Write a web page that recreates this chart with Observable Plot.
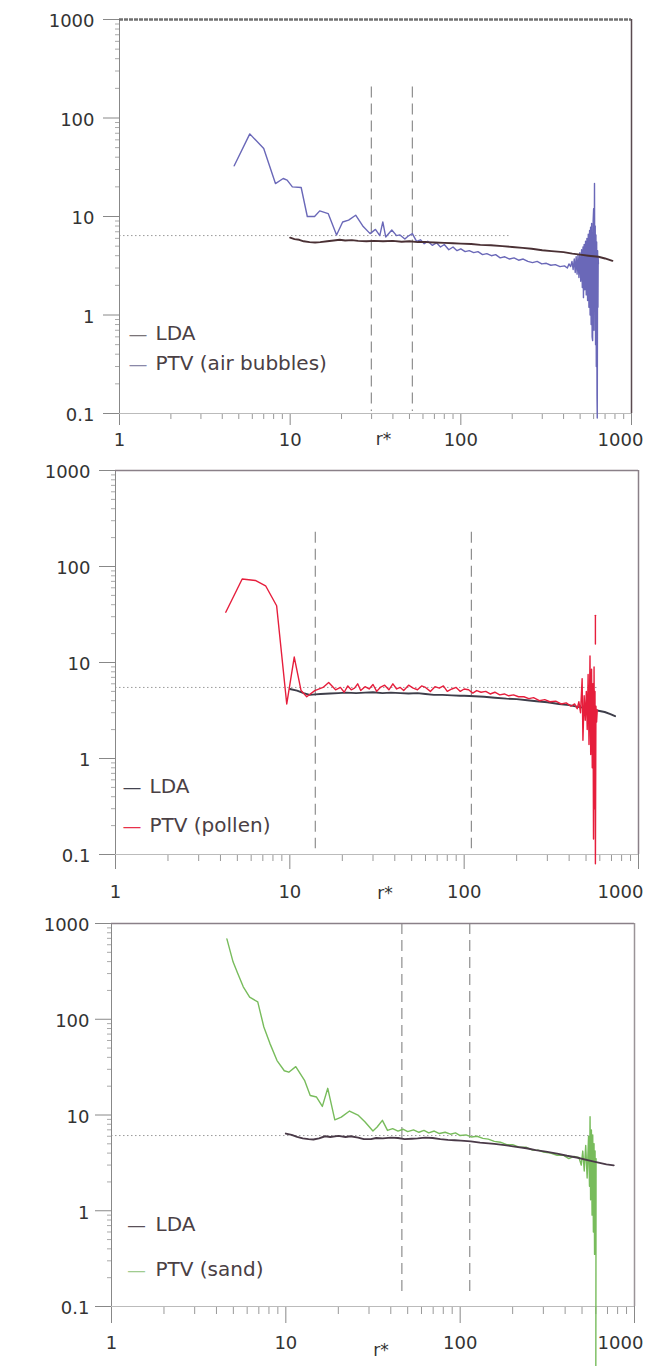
<!DOCTYPE html>
<html><head><meta charset="utf-8">
<script src="https://cdn.jsdelivr.net/npm/d3@7"></script>
<script src="https://cdn.jsdelivr.net/npm/@observablehq/plot@0.6"></script>
<style>
body{margin:0;background:#fff;width:646px;overflow:hidden;}
#chart svg{display:block;}
</style></head><body><div id="chart"></div>
<script>
// ---------- tick values / labels ----------
const majorX = [1, 10, 100, 1000];
const xTickLabels = ["1", "10", "100", "1000"];
const minorX = [2,3,4,5,6,7,8,9,20,30,40,50,60,70,80,90,200,300,400,500,600,700,800,900];
const majorY = [0.1, 1, 10, 100, 1000];
const yTickLabels = ["0.1", "1", "10", "100", "1000"];
const minorY = [0.2,0.3,0.4,0.5,0.6,0.7,0.8,0.9,2,3,4,5,6,7,8,9,20,30,40,50,60,70,80,90,200,300,400,500,600,700,800,900];
const xTitle = "r*";

// ---------- panel 1 : air bubbles ----------
const seriesNames1 = ["LDA", "PTV (air bubbles)"];
const bubblesPTV = [[4.7,32.7],[5.8,69],[7.0,49],[8.2,21.6],[9.1,24.3],[9.6,23.4],[10.3,20],[11.6,19.7],[12.6,10],[13.9,10],[14.9,11.4],[16.7,10.7],[18.7,6.5],[20.3,8.8],[22.0,9.2],[24.2,10.3],[26.8,7.9],[29.4,6.7],[31.6,7.4],[33.5,6.4],[34.9,8.8],[36.3,6.2],[39.4,7.3],[42,6.4],[44,6.5],[47,5.9],[49,6.3],[52,6.7],[55,5.6],[58,5.8],[61,5.3],[64,5.6],[68,5.1],[72,5.4],[76,4.9],[80,5.2],[85,4.6],[90,4.9],[95,4.5],[100,4.7],[106,4.4],[112,4.5],[119,4.3],[126,4.4],[134,4.1],[142,4.2],[151,4.0],[160,4.1],[170,3.8],[181,3.9],[193,3.7],[205,3.8],[218,3.6],[232,3.7],[247,3.5],[263,3.4],[280,3.5],[298,3.3],[317,3.35],[337,3.2],[358,3.25],[381,3.1],[405,3.15],[421,3.0],[430,3.3],[440,3.1],[448,3.5],[455,2.9],[462,3.7],[468,2.7],[474,3.9],[480,2.6],[486,4.1],[492,2.4],[498,4.3],[504,2.2],[510,4.6],[515,1.9],[520,4.9],[523,1.5],[528,5.2],[533,1.8],[538,5.6],[543,1.6],[548,6.0],[553,1.4],[558,6.6],[563,1.2],[568,7.2],[572,1.0],[576,7.8],[580,0.8],[584,8.5],[588,0.6],[592,0.55],[596,9],[600,12],[603,0.7],[607,21.6],[610,1.2],[613,8],[616,0.5],[619,6.5],[622,0.3],[625,5.5],[628,0.15],[630,0.09],[633,4.5],[636,1.2],[638,3.8],[640,3.3]];
const bubblesLDA = [[10,6.1],[10.6,5.9],[11.3,5.8],[12,5.6],[13,5.5],[14,5.45],[15,5.5],[16.5,5.6],[18,5.7],[19.5,5.8],[21,5.7],[23,5.75],[25,5.65],[28,5.6],[31,5.65],[35,5.6],[40,5.65],[45,5.55],[50,5.6],[56,5.5],[63,5.5],[70,5.45],[80,5.4],[90,5.35],[100,5.3],[115,5.25],[130,5.15],[150,5.1],[175,5.0],[200,4.9],[230,4.8],[260,4.7],[300,4.55],[340,4.45],[400,4.35],[450,4.2],[500,4.1],[560,4.0],[640,3.9],[700,3.75],[773,3.55]];
const bubblesDashR = [29.9, 52];
const bubblesDashSpan = [207, 0.105];
const bubblesDotLevel = 6.4;
const bubblesDotSpan = [1, 196];

// ---------- panel 2 : pollen ----------
const seriesNames2 = ["LDA", "PTV (pollen)"];
const pollenPTV = [[4.29,33.4],[5.33,74],[6.34,71.5],[7.26,63],[8.4,39],[9.6,3.7],[10.6,11.4],[11.6,5.1],[12.5,4.4],[13.9,5.1],[15.5,5.5],[16.7,6.2],[18.3,5.2],[19.5,5.5],[20.5,4.9],[21.5,5.7],[22.5,5.2],[23.5,5.4],[24.5,6.0],[25.5,5.1],[27,5.6],[28.5,5.3],[30,5.9],[31.5,5.0],[33,5.5],[35,5.8],[37,5.2],[39,6.0],[41,5.3],[43,5.5],[45,5.1],[48,5.8],[51,5.4],[54,5.2],[57,5.7],[60,5.5],[64,5.0],[68,5.6],[72,5.4],[76,5.7],[80,5.0],[85,5.3],[90,5.5],[95,5.0],[100,5.3],[106,5.2],[112,4.8],[118,5.1],[125,4.9],[133,5.0],[141,4.7],[150,4.9],[160,4.6],[170,4.7],[180,4.5],[192,4.6],[205,4.4],[220,4.4],[235,4.2],[250,4.3],[270,4.0],[290,4.1],[310,3.9],[335,3.95],[360,3.7],[385,3.8],[410,3.5],[430,3.7],[445,3.3],[455,3.9],[465,3.0],[475,6.8],[480,1.55],[488,4.5],[495,2.5],[502,5.0],[508,2.0],[514,7.5],[520,1.4],[527,11.7],[532,1.1],[538,8.5],[543,0.8],[548,6.0],[552,0.145],[556,9.0],[560,0.3],[563,5.0],[566,0.08],[570,3.5],[575,2.4],[580,3.2]];
const pollenSpike = [[566,15.6],[566,31]];
const pollenLDA = [[10,5.3],[11,5.1],[12,4.8],[13,4.6],[14,4.65],[15,4.7],[17,4.75],[19,4.8],[21,4.85],[24,4.8],[27,4.85],[30,4.9],[34,4.8],[38,4.85],[43,4.8],[48,4.75],[54,4.8],[60,4.7],[67,4.6],[75,4.6],[85,4.55],[95,4.5],[100,4.5],[115,4.45],[130,4.4],[150,4.3],[175,4.2],[200,4.15],[230,4.05],[260,3.95],[300,3.85],[350,3.7],[400,3.6],[450,3.45],[500,3.35],[560,3.2],[640,3.05],[690,2.9],[734,2.76]];
const pollenDashR = [14.0, 110];
const pollenDashSpan = [228, 0.115];
const pollenDotLevel = 5.5;
const pollenDotSpan = [1, 580];

// ---------- panel 3 : sand ----------
const seriesNames3 = ["LDA", "PTV (sand)"];
const sandPTV = [[4.59,690],[4.98,398],[5.3,300],[5.7,218],[6.2,170],[6.9,152],[7.48,83],[8.1,56],[8.9,37],[9.8,29],[10.4,28],[11.4,32],[12.8,23],[13.8,16],[15,15.4],[16.2,12.3],[17.4,19],[19.1,8.9],[20.8,9.5],[23.2,11],[26.1,9.9],[28.4,8.5],[31.6,6.8],[33.4,7.5],[35.8,8.8],[38.3,6.9],[41,7.2],[44,6.8],[47,7.1],[50,6.7],[54,7.0],[58,6.6],[62,6.9],[66,6.5],[71,6.8],[76,6.4],[82,6.6],[88,6.3],[94,6.5],[100,6.1],[108,6.2],[116,5.9],[125,6.0],[135,5.7],[145,5.6],[157,5.3],[170,5.2],[185,4.9],[200,4.9],[220,4.6],[240,4.6],[260,4.3],[280,4.3],[300,4.1],[330,4.0],[360,3.8],[390,3.8],[420,3.5],[450,3.7],[480,3.6],[495,3.0],[505,4.2],[515,2.6],[525,4.8],[535,2.2],[545,6.0],[552,1.8],[556,9.6],[560,1.3],[566,7.0],[571,0.9],[576,6.2],[581,0.6],[586,5.0],[590,0.35],[594,4.2],[598,0.6],[602,3.5],[600,0.02]];
const sandLDA = [[10,6.4],[10.8,6.2],[11.6,5.9],[12.5,5.7],[13.5,5.6],[14.4,5.55],[15.5,5.7],[16.8,6.0],[18,5.9],[20,6.05],[22,5.9],[23.5,6.0],[26,5.8],[28,5.6],[30.8,5.6],[33,5.75],[36,5.7],[40,5.8],[44,5.75],[48,5.6],[52.7,5.65],[57,5.7],[63,5.8],[69.5,5.75],[77,5.6],[85,5.5],[93,5.45],[101,5.4],[115,5.3],[130,5.15],[157,5.0],[180,4.85],[210,4.65],[240,4.5],[271,4.3],[310,4.15],[360,3.95],[410,3.75],[466,3.6],[530,3.4],[612,3.2],[690,3.05],[760,2.98]];
const sandDashR = [46.3, 113.5];
const sandDashSpan = [1000, 0.126];
const sandDotLevel = 6.1;
const sandDotSpan = [1, 580];

const FONT = "'DejaVu Sans', 'Liberation Sans', Arial, sans-serif";

function panel(c) {
  const ptvLine = Plot.line(c.ptv, {x: d => d[0], y: d => d[1], stroke: c.ptvColor, strokeWidth: 1.4});
  const ldaLine = Plot.line(c.lda, {x: d => d[0], y: d => d[1], stroke: c.ldaColor, strokeWidth: 1.9});
  const lines = c.ptvFirst ? [ptvLine, ldaLine] : [ldaLine, ptvLine];
  const fmt = d => xTickLabels[majorX.indexOf(d)];
  return Plot.plot({
    width: 646, height: c.height,
    marginTop: c.mt, marginBottom: c.mb, marginLeft: c.ml, marginRight: c.mr,
    style: {fontFamily: FONT, fontSize: "18px", color: "#333", background: "#fff"},
    x: {type: "log", domain: [1, 1000], label: null},
    y: {type: "log", domain: [0.1, 1000], label: null},
    marks: [
      // dotted reference level
      Plot.ruleY([c.dotLevel], {x1: c.dotSpan[0], x2: c.dotSpan[1], stroke: "#9a9a9a", strokeWidth: 1, strokeDasharray: "1.5,2.5"}),
      // dashed vertical markers
      Plot.ruleX(c.dashR, {y1: c.dashSpan[0], y2: c.dashSpan[1], stroke: "#8e8e8e", strokeWidth: 1.2, strokeDasharray: "11,6"}),
      // minor ticks
      Plot.axisX(minorX, {anchor: "bottom", tickSize: c.minorTickX, fill: "none", stroke: "#999", label: null}),
      Plot.axisY(minorY, {anchor: "left", tickSize: 4, fill: "none", stroke: "#aaa", label: null}),
      // major ticks
      Plot.axisX(majorX, {anchor: "bottom", tickSize: c.majorTickX, fill: "none", stroke: "#888", label: null}),
      Plot.axisY(majorY, {anchor: "left", tickSize: 16, fill: "none", stroke: "#888", label: null}),
      // tick labels
      Plot.axisX(majorX.slice(0, 3), {anchor: "bottom", tickSize: 0, tickPadding: c.xPad, fill: "#333", tickFormat: fmt, label: null, fontSize: 18}),
      Plot.axisX(majorX.slice(3), {anchor: "bottom", tickSize: 0, tickPadding: c.xPad, dx: c.lastDx, fill: "#333", tickFormat: fmt, label: null, fontSize: 18}),
      Plot.axisY(majorY, {anchor: "left", tickSize: 0, tickPadding: c.yPad, dy: 2, fill: "#333", tickFormat: d => yTickLabels[majorY.indexOf(d)], label: null, fontSize: 18}),
      // frame
      Plot.ruleX([1], {stroke: "#888", strokeWidth: 1}),
      Plot.ruleY([0.1], {stroke: "#bbb", strokeWidth: 1}),
      Plot.ruleY([1000], {stroke: c.topColor, strokeWidth: c.topWidth, strokeDasharray: c.topDash}),
      Plot.ruleX([1000], {stroke: c.rightColor, strokeWidth: 1.5}),
      ...lines,
      c.extra ? Plot.line(c.extra, {x: d => d[0], y: d => d[1], stroke: c.ptvColor, strokeWidth: 1.4}) : null,
      // legend
      Plot.text([c.names[0]], {frameAnchor: "bottom-left", dx: c.legSw, dy: c.legDy[0], text: () => "\u2014", fill: c.ldaSwatch, textAnchor: "middle", fontSize: 17, fontFamily: "'Liberation Sans', Arial, sans-serif"}),
      Plot.text([c.names[1]], {frameAnchor: "bottom-left", dx: c.legSw, dy: c.legDy[1], text: () => "\u2014", fill: c.ptvSwatch, textAnchor: "middle", fontSize: 17, fontFamily: "'Liberation Sans', Arial, sans-serif"}),
      Plot.text([c.names[0]], {frameAnchor: "bottom-left", dx: c.legTx, dy: c.legDy[0], text: d => d, fill: "#4a4044", textAnchor: "start", fontSize: 20}),
      Plot.text([c.names[1]], {frameAnchor: "bottom-left", dx: c.legTx, dy: c.legDy[1], text: d => d, fill: "#4a4044", textAnchor: "start", fontSize: 20}),
      // axis title
      Plot.text([xTitle], {frameAnchor: "bottom", dx: 8, dy: c.titleDy, lineAnchor: "top", text: d => d, fill: "#333", fontSize: 17})
    ]
  });
}

const root = document.getElementById("chart");
root.appendChild(panel({
  height: 450, mt: 19, mb: 37, ml: 119, mr: 15,
  ptv: bubblesPTV, lda: bubblesLDA, ptvFirst: true,
  ptvColor: "#6a68b8", ldaColor: "#4a3034", ptvSwatch: "#8a88a8", ldaSwatch: "#7a7478",
  dashR: bubblesDashR, dashSpan: bubblesDashSpan, dotLevel: bubblesDotLevel, dotSpan: bubblesDotSpan,
  majorTickX: 12, minorTickX: 6, xPad: 20, yPad: 25, lastDx: -11,
  topColor: "#707070", topWidth: 2.5, topDash: "4,1", rightColor: "#5a4a50",
  names: seriesNames1, legSw: 18.5, legTx: 36, legDy: [-74, -44], titleDy: 19
}));
root.appendChild(panel({
  height: 455, mt: 20, mb: 51, ml: 115, mr: 8,
  ptv: pollenPTV, lda: pollenLDA, ptvFirst: false, extra: pollenSpike,
  ptvColor: "#e61e3c", ldaColor: "#3e3e4a", ptvSwatch: "#e8304a", ldaSwatch: "#444450",
  dashR: pollenDashR, dashSpan: pollenDashSpan, dotLevel: pollenDotLevel, dotSpan: pollenDotSpan,
  majorTickX: 15, minorTickX: 7, xPad: 31, yPad: 25, lastDx: -18,
  topColor: "#8a8088", topWidth: 1.5, topDash: null, rightColor: "#8a8088",
  names: seriesNames2, legSw: 16.5, legTx: 34, legDy: [-62, -23], titleDy: 32
}));
root.appendChild(panel({
  height: 461, mt: 18, mb: 60, ml: 111, mr: 12,
  ptv: sandPTV, lda: sandLDA, ptvFirst: true,
  ptvColor: "#78bc5c", ldaColor: "#4a3a48", ptvSwatch: "#a0cc90", ldaSwatch: "#5a5058",
  dashR: sandDashR, dashSpan: sandDashSpan, dotLevel: sandDotLevel, dotSpan: sandDotSpan,
  majorTickX: 17, minorTickX: 8, xPad: 30, yPad: 22, lastDx: -14,
  topColor: "#8a8088", topWidth: 1.5, topDash: null, rightColor: "#9a9498",
  names: seriesNames3, legSw: 25, legTx: 44, legDy: [-76, -31], titleDy: 37
}));
</script></body></html>
